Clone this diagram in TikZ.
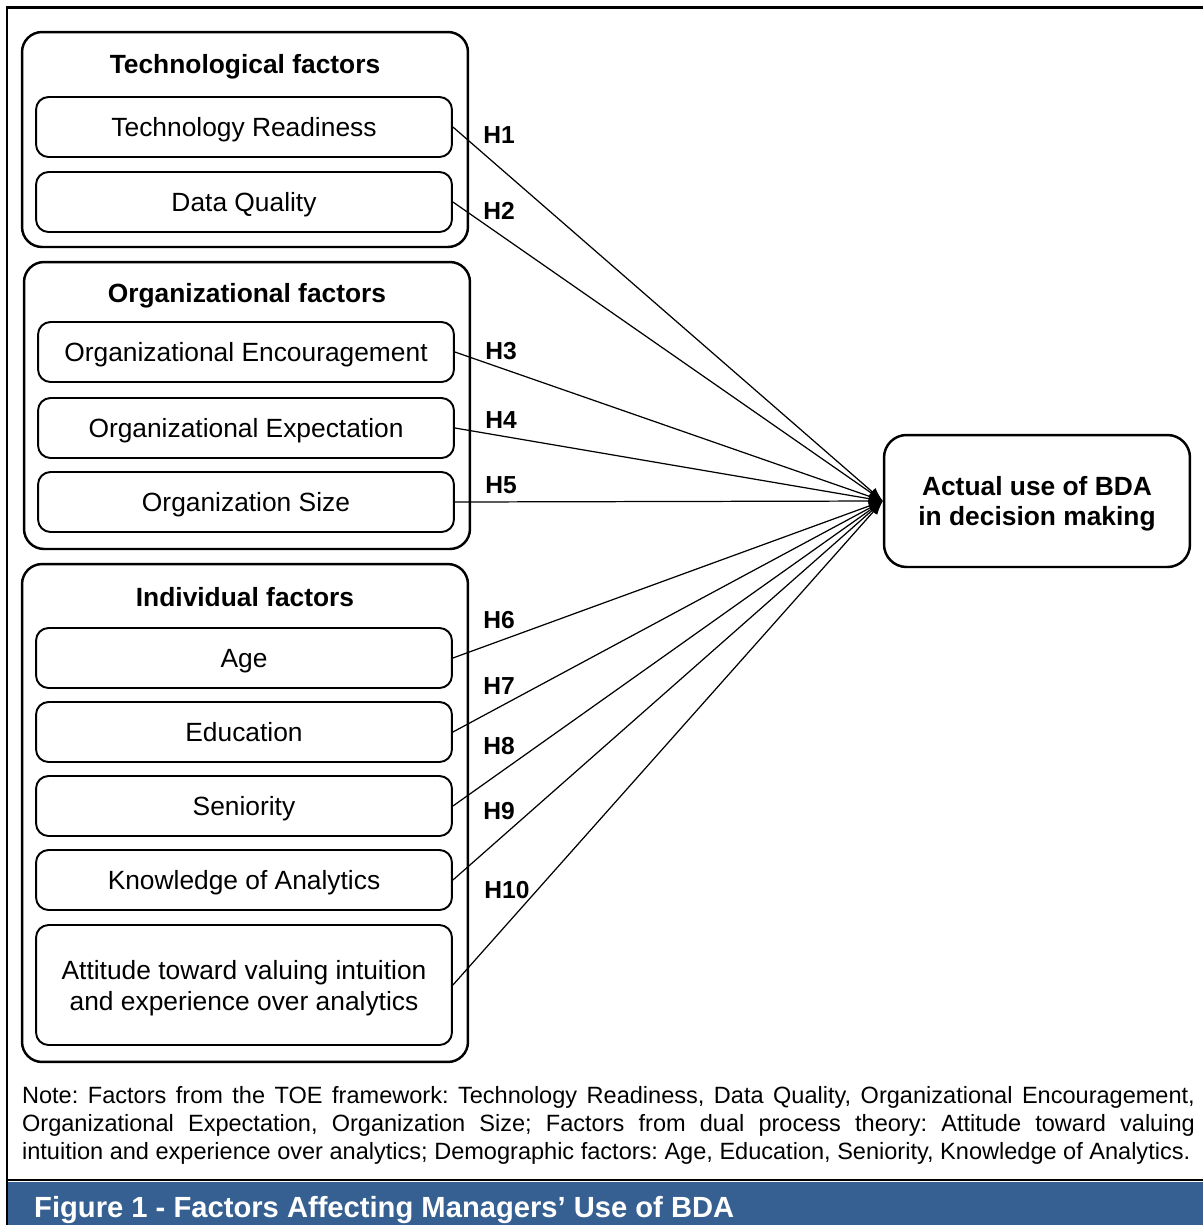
\documentclass[tikz,border=0pt]{standalone}
\usepackage{fontspec}
\setmainfont{Liberation Sans}
\usetikzlibrary{arrows.meta}
\definecolor{capblue}{RGB}{54,96,146}

\begin{document}
\begin{tikzpicture}[x=0.02cm,y=-0.02cm,
	grp/.style={draw,line width=1.4pt,rounded corners=0.4cm,minimum width=8.92cm},
	fac/.style={draw,line width=1.1pt,rounded corners=0.25cm,minimum width=8.32cm,minimum height=1.2cm,align=center,text depth=0pt,font=\fontsize{15}{17.6}\selectfont},
	head/.style={text depth=0pt,font=\bfseries\fontsize{15}{18}\selectfont},
	hyp/.style={font=\bfseries\fontsize{14}{17}\selectfont},
	link/.style={line width=0.7pt,-{Latex[length=2.8mm,width=2mm]}}]
	\useasboundingbox (0,0) rectangle (1203,1225);
	\draw[line width=1.7pt] (1215,7) -- (7,7) -- (7,1230);
	\draw[line width=1.4pt] (7,1180) -- (1215,1180);
	\fill[capblue] (8,1182) rectangle (1215,1230);
	\node[anchor=west,text=white,text depth=0pt,font=\bfseries\fontsize{16.6}{20}\selectfont] (cap) at (28,1207) {Figure 1 - Factors Affecting Managers’ Use of BDA};

	\node[grp,minimum height=4.3cm] (tech) at (245,139.5) {};
	\node[grp,minimum height=5.74cm] (org) at (247,405.5) {};
	\node[grp,minimum height=9.96cm] (ind) at (245,813) {};
	\node[head] (techhead) at (245,64) {Technological factors};
	\node[head] (orghead) at (247,293) {Organizational factors};
	\node[head] (indhead) at (245,597) {Individual factors};

	\node[fac] (tr) at (244,127) {Technology Readiness};
	\node[fac] (dq) at (244,202) {Data Quality};
	\node[fac] (oe) at (246,352) {Organizational Encouragement};
	\node[fac] (ox) at (246,428) {Organizational Expectation};
	\node[fac] (os) at (246,502) {Organization Size};
	\node[fac] (age) at (244,658) {Age};
	\node[fac] (edu) at (244,732) {Education};
	\node[fac] (sen) at (244,806) {Seniority};
	\node[fac] (kno) at (244,880) {Knowledge of Analytics};
	\node[fac,minimum height=2.4cm] (att) at (244,985) {Attitude toward valuing intuition\\and experience over analytics};

	\node[draw,line width=1.4pt,rounded corners=0.45cm,minimum width=6.12cm,minimum height=2.64cm,align=center,text depth=0pt,font=\bfseries\fontsize{15}{17}\selectfont] (bda) at (1037,501) {Actual use of BDA\\in decision making};

	\foreach \src in {tr,dq,oe,ox,os,age,edu,sen,kno,att}
		\draw[link] (\src.east) -- (bda.west);

	\node[hyp] (h1) at (499,135) {H1};
	\node[hyp] (h2) at (499,211) {H2};
	\node[hyp] (h3) at (501,351) {H3};
	\node[hyp] (h4) at (501,420) {H4};
	\node[hyp] (h5) at (501,485) {H5};
	\node[hyp] (h6) at (499,620) {H6};
	\node[hyp] (h7) at (499,686) {H7};
	\node[hyp] (h8) at (499,746) {H8};
	\node[hyp] (h9) at (499,811) {H9};
	\node[hyp] (h10) at (507,890) {H10};

	\node[inner sep=0pt,text width=23.46cm,align=justify,font=\fontsize{13.4}{15.9}\selectfont\frenchspacing] (note) at (608.5,1125) {Note: Factors from the TOE framework: Technology Readiness, Data Quality, Organizational Encouragement,\linebreak Organizational Expectation, Organization Size; Factors from dual process theory: Attitude toward valuing\linebreak intuition and experience over analytics; Demographic factors: Age, Education, Seniority, Knowledge of Analytics.};
\end{tikzpicture}
\end{document}
